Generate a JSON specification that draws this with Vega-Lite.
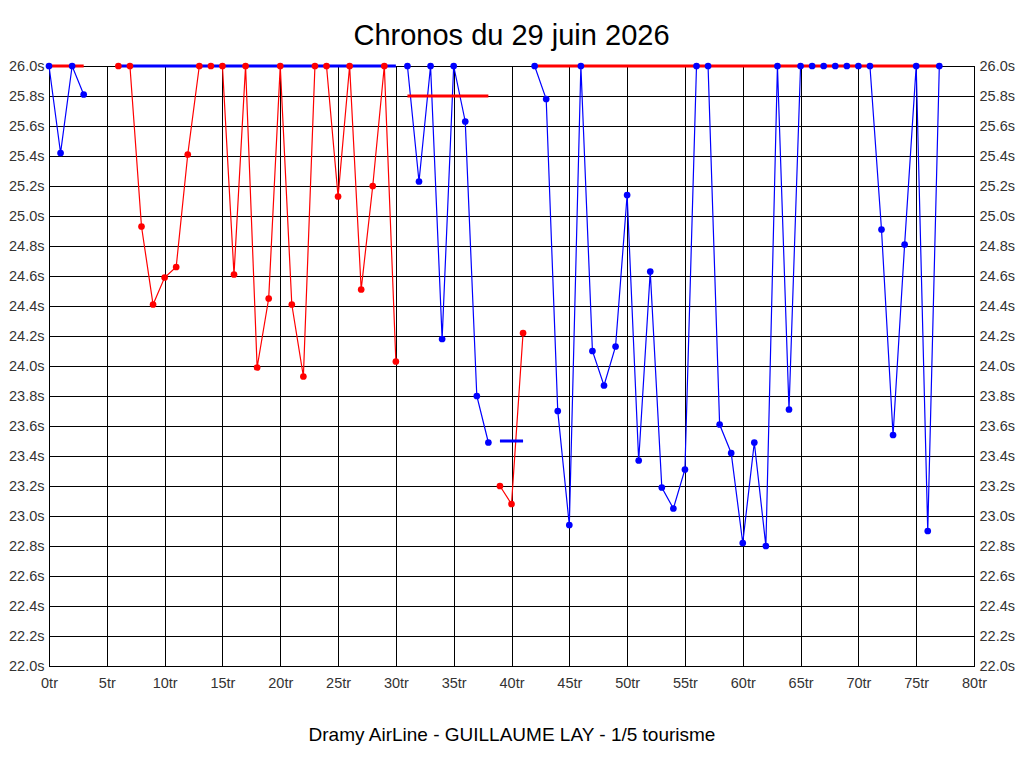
{
  "$schema": "https://vega.github.io/schema/vega-lite/v6.json",
  "width": 925,
  "height": 600,
  "autosize": "none",
  "padding": {"left": 49, "top": 66, "right": 50, "bottom": 102},
  "background": "#ffffff",
  "title": {"text": "Chronos du 29 juin 2026", "fontSize": 29, "font": "Liberation Sans", "fontWeight": "normal", "color": "#000", "anchor": "middle", "baseline": "alphabetic", "offset": 20, "dy": 36},
  "datasets": {
    "tours": [
      {"tour": 0, "temps": 26.0, "relais": 1, "groupe": "A"},
      {"tour": 1, "temps": 25.42, "relais": 1, "groupe": "A"},
      {"tour": 2, "temps": 26.0, "relais": 1, "groupe": "A"},
      {"tour": 3, "temps": 25.81, "relais": 1, "groupe": "A"},
      {"tour": 6, "temps": 26.0, "relais": 2, "groupe": "B"},
      {"tour": 7, "temps": 26.0, "relais": 2, "groupe": "B"},
      {"tour": 8, "temps": 24.93, "relais": 2, "groupe": "B"},
      {"tour": 9, "temps": 24.41, "relais": 2, "groupe": "B"},
      {"tour": 10, "temps": 24.59, "relais": 2, "groupe": "B"},
      {"tour": 11, "temps": 24.66, "relais": 2, "groupe": "B"},
      {"tour": 12, "temps": 25.41, "relais": 2, "groupe": "B"},
      {"tour": 13, "temps": 26.0, "relais": 2, "groupe": "B"},
      {"tour": 14, "temps": 26.0, "relais": 2, "groupe": "B"},
      {"tour": 15, "temps": 26.0, "relais": 2, "groupe": "B"},
      {"tour": 16, "temps": 24.61, "relais": 2, "groupe": "B"},
      {"tour": 17, "temps": 26.0, "relais": 2, "groupe": "B"},
      {"tour": 18, "temps": 23.99, "relais": 2, "groupe": "B"},
      {"tour": 19, "temps": 24.45, "relais": 2, "groupe": "B"},
      {"tour": 20, "temps": 26.0, "relais": 2, "groupe": "B"},
      {"tour": 21, "temps": 24.41, "relais": 2, "groupe": "B"},
      {"tour": 22, "temps": 23.93, "relais": 2, "groupe": "B"},
      {"tour": 23, "temps": 26.0, "relais": 2, "groupe": "B"},
      {"tour": 24, "temps": 26.0, "relais": 2, "groupe": "B"},
      {"tour": 25, "temps": 25.13, "relais": 2, "groupe": "B"},
      {"tour": 26, "temps": 26.0, "relais": 2, "groupe": "B"},
      {"tour": 27, "temps": 24.51, "relais": 2, "groupe": "B"},
      {"tour": 28, "temps": 25.2, "relais": 2, "groupe": "B"},
      {"tour": 29, "temps": 26.0, "relais": 2, "groupe": "B"},
      {"tour": 30, "temps": 24.03, "relais": 2, "groupe": "B"},
      {"tour": 31, "temps": 26.0, "relais": 3, "groupe": "A"},
      {"tour": 32, "temps": 25.23, "relais": 3, "groupe": "A"},
      {"tour": 33, "temps": 26.0, "relais": 3, "groupe": "A"},
      {"tour": 34, "temps": 24.18, "relais": 3, "groupe": "A"},
      {"tour": 35, "temps": 26.0, "relais": 3, "groupe": "A"},
      {"tour": 36, "temps": 25.63, "relais": 3, "groupe": "A"},
      {"tour": 37, "temps": 23.8, "relais": 3, "groupe": "A"},
      {"tour": 38, "temps": 23.49, "relais": 3, "groupe": "A"},
      {"tour": 39, "temps": 23.2, "relais": 4, "groupe": "B"},
      {"tour": 40, "temps": 23.08, "relais": 4, "groupe": "B"},
      {"tour": 41, "temps": 24.22, "relais": 4, "groupe": "B"},
      {"tour": 42, "temps": 26.0, "relais": 5, "groupe": "A"},
      {"tour": 43, "temps": 25.78, "relais": 5, "groupe": "A"},
      {"tour": 44, "temps": 23.7, "relais": 5, "groupe": "A"},
      {"tour": 45, "temps": 22.94, "relais": 5, "groupe": "A"},
      {"tour": 46, "temps": 26.0, "relais": 5, "groupe": "A"},
      {"tour": 47, "temps": 24.1, "relais": 5, "groupe": "A"},
      {"tour": 48, "temps": 23.87, "relais": 5, "groupe": "A"},
      {"tour": 49, "temps": 24.13, "relais": 5, "groupe": "A"},
      {"tour": 50, "temps": 25.14, "relais": 5, "groupe": "A"},
      {"tour": 51, "temps": 23.37, "relais": 5, "groupe": "A"},
      {"tour": 52, "temps": 24.63, "relais": 5, "groupe": "A"},
      {"tour": 53, "temps": 23.19, "relais": 5, "groupe": "A"},
      {"tour": 54, "temps": 23.05, "relais": 5, "groupe": "A"},
      {"tour": 55, "temps": 23.31, "relais": 5, "groupe": "A"},
      {"tour": 56, "temps": 26.0, "relais": 5, "groupe": "A"},
      {"tour": 57, "temps": 26.0, "relais": 5, "groupe": "A"},
      {"tour": 58, "temps": 23.61, "relais": 5, "groupe": "A"},
      {"tour": 59, "temps": 23.42, "relais": 5, "groupe": "A"},
      {"tour": 60, "temps": 22.82, "relais": 5, "groupe": "A"},
      {"tour": 61, "temps": 23.49, "relais": 5, "groupe": "A"},
      {"tour": 62, "temps": 22.8, "relais": 5, "groupe": "A"},
      {"tour": 63, "temps": 26.0, "relais": 5, "groupe": "A"},
      {"tour": 64, "temps": 23.71, "relais": 5, "groupe": "A"},
      {"tour": 65, "temps": 26.0, "relais": 5, "groupe": "A"},
      {"tour": 66, "temps": 26.0, "relais": 5, "groupe": "A"},
      {"tour": 67, "temps": 26.0, "relais": 5, "groupe": "A"},
      {"tour": 68, "temps": 26.0, "relais": 5, "groupe": "A"},
      {"tour": 69, "temps": 26.0, "relais": 5, "groupe": "A"},
      {"tour": 70, "temps": 26.0, "relais": 5, "groupe": "A"},
      {"tour": 71, "temps": 26.0, "relais": 5, "groupe": "A"},
      {"tour": 72, "temps": 24.91, "relais": 5, "groupe": "A"},
      {"tour": 73, "temps": 23.54, "relais": 5, "groupe": "A"},
      {"tour": 74, "temps": 24.81, "relais": 5, "groupe": "A"},
      {"tour": 75, "temps": 26.0, "relais": 5, "groupe": "A"},
      {"tour": 76, "temps": 22.9, "relais": 5, "groupe": "A"},
      {"tour": 77, "temps": 26.0, "relais": 5, "groupe": "A"}
    ],
    "moyennes": [
      {"relais": 1, "debut": 0, "fin": 3, "moyenne": 26.0, "groupe": "B"},
      {"relais": 2, "debut": 6, "fin": 30, "moyenne": 26.0, "groupe": "A"},
      {"relais": 3, "debut": 31, "fin": 38, "moyenne": 25.8, "groupe": "B"},
      {"relais": 4, "debut": 39, "fin": 41, "moyenne": 23.5, "groupe": "A"},
      {"relais": 5, "debut": 42, "fin": 77, "moyenne": 26.0, "groupe": "B"}
    ]
  },
  "layer": [
    {
      "data": {"name": "tours"},
      "mark": {"type": "line", "strokeWidth": 1.2},
      "encoding": {
        "x": {"field": "tour", "type": "quantitative", "scale": {"domain": [0, 80], "nice": false, "zero": false},
              "title": "Dramy AirLine - GUILLAUME LAY - 1/5 tourisme",
              "axis": {"values": [0,5,10,15,20,25,30,35,40,45,50,55,60,65,70,75,80], "labelExpr": "datum.value + 'tr'", "grid": true, "labelFlush": false}},
        "y": {"field": "temps", "type": "quantitative", "scale": {"domain": [22, 26], "nice": false, "zero": false},
              "axis": {"orient": "left", "title": null, "grid": true, "labelFlush": false, "values": [22.0,22.2,22.4,22.6,22.8,23.0,23.2,23.4,23.6,23.8,24.0,24.2,24.4,24.6,24.8,25.0,25.2,25.4,25.6,25.8,26.0], "labelExpr": "format(datum.value, '.1f') + 's'"}},
        "color": {"field": "groupe", "type": "nominal", "scale": {"domain": ["A", "B"], "range": ["#0000ff", "#ff0000"]}, "legend": null},
        "detail": {"field": "relais", "type": "nominal"},
        "order": {"field": "tour", "type": "quantitative"}
      }
    },
    {
      "data": {"name": "moyennes"},
      "mark": {"type": "rule", "strokeWidth": 3},
      "encoding": {
        "x": {"field": "debut", "type": "quantitative", "title": "Dramy AirLine - GUILLAUME LAY - 1/5 tourisme"},
        "x2": {"field": "fin"},
        "y": {"field": "moyenne", "type": "quantitative", "axis": null},
        "color": {"field": "groupe", "type": "nominal", "legend": null}
      }
    },
    {
      "data": {"name": "tours"},
      "mark": {"type": "circle", "size": 45, "opacity": 1},
      "encoding": {
        "x": {"field": "tour", "type": "quantitative", "title": "Dramy AirLine - GUILLAUME LAY - 1/5 tourisme"},
        "y": {"field": "temps", "type": "quantitative",
              "axis": {"orient": "right", "title": null, "grid": false, "labelFlush": false, "values": [22.0,22.2,22.4,22.6,22.8,23.0,23.2,23.4,23.6,23.8,24.0,24.2,24.4,24.6,24.8,25.0,25.2,25.4,25.6,25.8,26.0], "labelExpr": "format(datum.value, '.1f') + 's'"}},
        "color": {"field": "groupe", "type": "nominal", "legend": null}
      }
    }
  ],
  "resolve": {"axis": {"y": "independent"}},
  "config": {
    "view": {"stroke": "#000000", "strokeWidth": 1},
    "axis": {
      "domainColor": "#000000",
      "domainWidth": 1,
      "gridColor": "#000000",
      "gridOpacity": 1,
      "gridWidth": 1,
      "ticks": false,
      "labelFont": "Liberation Sans",
      "labelFontSize": 14.5,
      "labelColor": "#333333",
      "titleFont": "Liberation Sans",
      "titleFontWeight": "normal",
      "titleColor": "#000000"
    },
    "axisX": {"labelPadding": 10, "titleFontSize": 19, "titlePadding": 36, "labelAngle": 0},
    "axisLeft": {"labelPadding": 5},
    "axisRight": {"labelPadding": 5}
  }
}
